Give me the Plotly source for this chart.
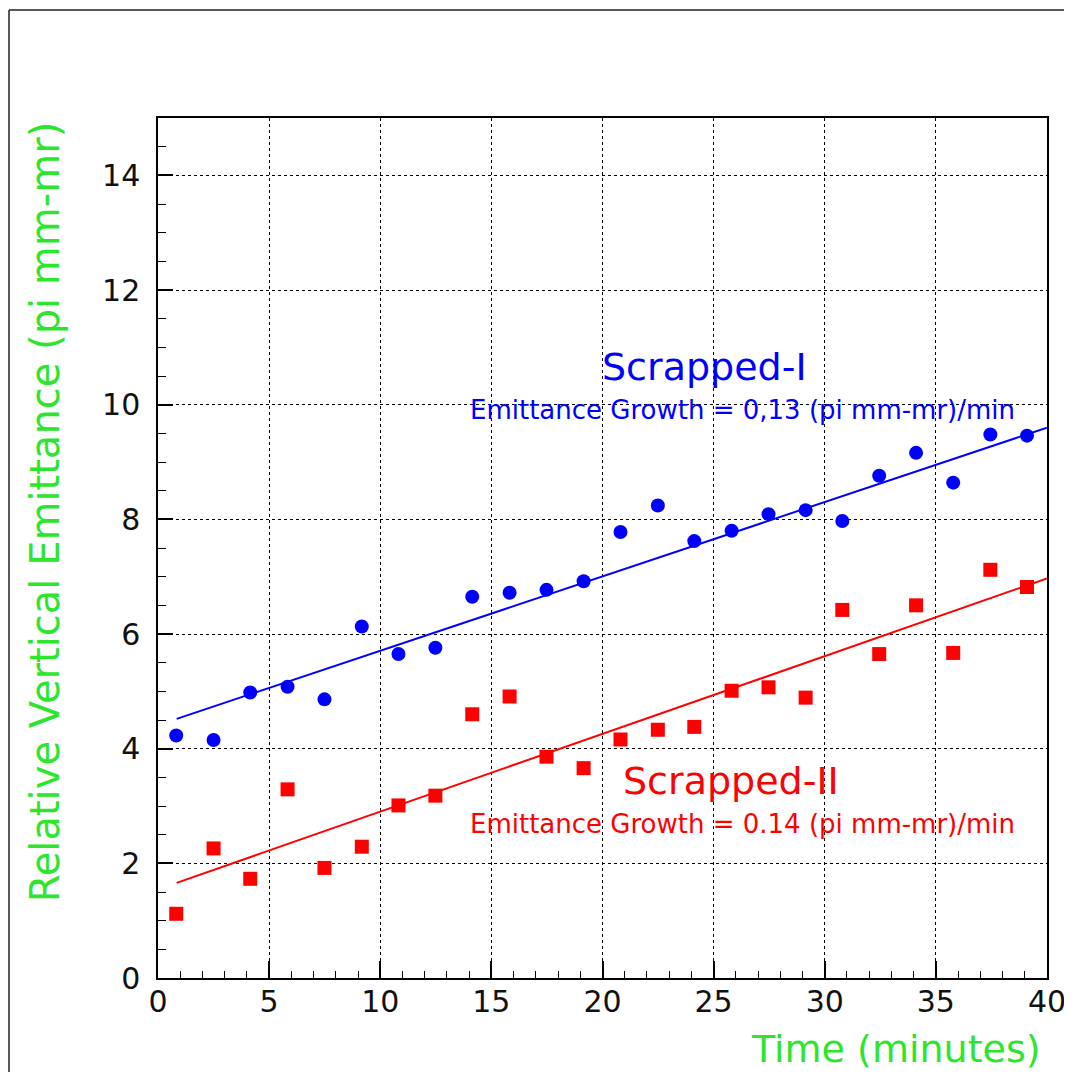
import plotly.graph_objects as go

# ---- data ----
time_min = [0.82, 2.50, 4.15, 5.83, 7.49, 9.17, 10.82, 12.48, 14.14, 15.82, 17.48, 19.15,
            20.81, 22.49, 24.13, 25.81, 27.47, 29.14, 30.79, 32.45, 34.11, 35.78, 37.45, 39.10]
scrapped_1 = [4.23, 4.15, 4.98, 5.08, 4.86, 6.13, 5.65, 5.76, 6.65, 6.72, 6.77, 6.92,
              7.78, 8.24, 7.62, 7.80, 8.09, 8.16, 7.97, 8.76, 9.16, 8.64, 9.48, 9.46]
scrapped_2 = [1.12, 2.26, 1.73, 3.29, 1.92, 2.29, 3.01, 3.18, 4.60, 4.91, 3.86, 3.66,
              4.16, 4.33, 4.38, 5.01, 5.07, 4.89, 6.42, 5.65, 6.50, 5.67, 7.12, 6.82]

fit_range = [0.84, 40.0]
fit1_intercept, fit1_slope = 4.411, 0.1297
fit2_intercept, fit2_slope = 1.546, 0.1356

x_ticks = [0, 5, 10, 15, 20, 25, 30, 35, 40]
y_ticks = [0, 2, 4, 6, 8, 10, 12, 14]

label1 = "Scrapped-I"
growth1 = "Emittance Growth = 0,13 (pi mm-mr)/min"
label2 = "Scrapped-II"
growth2 = "Emittance Growth = 0.14 (pi mm-mr)/min"

BLUE = "#0000ff"
RED = "#ff0000"
GREEN = "#2ee52e"
FONT = "DejaVu Sans"

# figure is placed 8px from the page corner (default body margin)
FIG_W, FIG_H = 1064, 1064
M_L, M_T, PLOT_W, PLOT_H = 150, 110, 889, 860

fig = go.Figure()

fig.add_trace(go.Scatter(
    x=time_min, y=scrapped_1, mode="markers",
    marker=dict(symbol="circle", size=14, color=BLUE, line=dict(width=0)),
    showlegend=False))
fig.add_trace(go.Scatter(
    x=time_min, y=scrapped_2, mode="markers",
    marker=dict(symbol="square", size=14, color=RED, line=dict(width=0)),
    showlegend=False))

fig.add_trace(go.Scatter(
    x=fit_range, y=[fit1_intercept + fit1_slope * t for t in fit_range],
    mode="lines", line=dict(color=BLUE, width=2), showlegend=False))
fig.add_trace(go.Scatter(
    x=fit_range, y=[fit2_intercept + fit2_slope * t for t in fit_range],
    mode="lines", line=dict(color=RED, width=2), showlegend=False))

axis_common = dict(
    showline=True, linecolor="black", linewidth=1.5, mirror=True,
    showgrid=True, gridcolor="black", gridwidth=1, griddash="dot",
    zeroline=False, ticks="inside", tickcolor="black", tickwidth=1.5,
    tickfont=dict(family=FONT, size=30, color="#111111"),
    ticklabeloverflow="allow", automargin=False,
)

fig.update_xaxes(range=[0, 40], tickvals=x_ticks, ticklen=17,
                 minor=dict(dtick=1, ticks="inside", ticklen=7, tickcolor="black",
                            tickwidth=1, showgrid=False),
                 ticklabelstandoff=-4,
                 **axis_common)
fig.update_yaxes(range=[0, 15], tickvals=y_ticks, ticklen=15,
                 minor=dict(dtick=0.5, ticks="inside", ticklen=8, tickcolor="black",
                            tickwidth=1, showgrid=False),
                 ticklabelstandoff=10,
                 **axis_common)

annotations = [
    dict(text=label1, x=24.6, y=10.65, xref="x", yref="y", showarrow=False,
         font=dict(family=FONT, size=38, color=BLUE), xanchor="center", yanchor="middle"),
    dict(text=growth1, x=26.3, y=9.91, xref="x", yref="y", showarrow=False,
         font=dict(family=FONT, size=26, color=BLUE), xanchor="center", yanchor="middle"),
    dict(text=label2, x=25.8, y=3.44, xref="x", yref="y", showarrow=False,
         font=dict(family=FONT, size=38, color=RED), xanchor="center", yanchor="middle"),
    dict(text=growth2, x=26.3, y=2.69, xref="x", yref="y", showarrow=False,
         font=dict(family=FONT, size=26, color=RED), xanchor="center", yanchor="middle"),
    dict(text="Relative Vertical Emittance (pi mm-mr)", textangle=-90,
         x=-0.127, y=0.998, xref="paper", yref="paper", showarrow=False,
         font=dict(family=FONT, size=40, color=GREEN), xanchor="center", yanchor="top"),
    dict(text="Time (minutes)", x=0.9955, y=-0.083, xref="paper", yref="paper",
         showarrow=False, font=dict(family=FONT, size=38, color=GREEN),
         xanchor="right", yanchor="middle"),
]

def px_x(fx):   # figure-pixel x -> paper
    return (fx - M_L) / PLOT_W

def px_y(fy):   # figure-pixel y -> paper
    return (M_T + PLOT_H - fy) / PLOT_H

shapes = [
    dict(type="line", xref="paper", yref="paper", x0=px_x(1), x1=px_x(1),
         y0=px_y(2), y1=px_y(FIG_H + 5), line=dict(color="#222222", width=1.5)),
    dict(type="line", xref="paper", yref="paper", x0=px_x(1), x1=px_x(FIG_W + 5),
         y0=px_y(2), y1=px_y(2), line=dict(color="#222222", width=1.5)),
]

fig.update_layout(
    width=FIG_W, height=FIG_H, autosize=False,
    margin=dict(l=M_L, r=FIG_W - M_L - PLOT_W, t=M_T, b=FIG_H - M_T - PLOT_H,
                autoexpand=False),
    plot_bgcolor="white", paper_bgcolor="white",
    annotations=annotations, shapes=shapes,
    showlegend=False,
)

fig.write_html("out.html")
